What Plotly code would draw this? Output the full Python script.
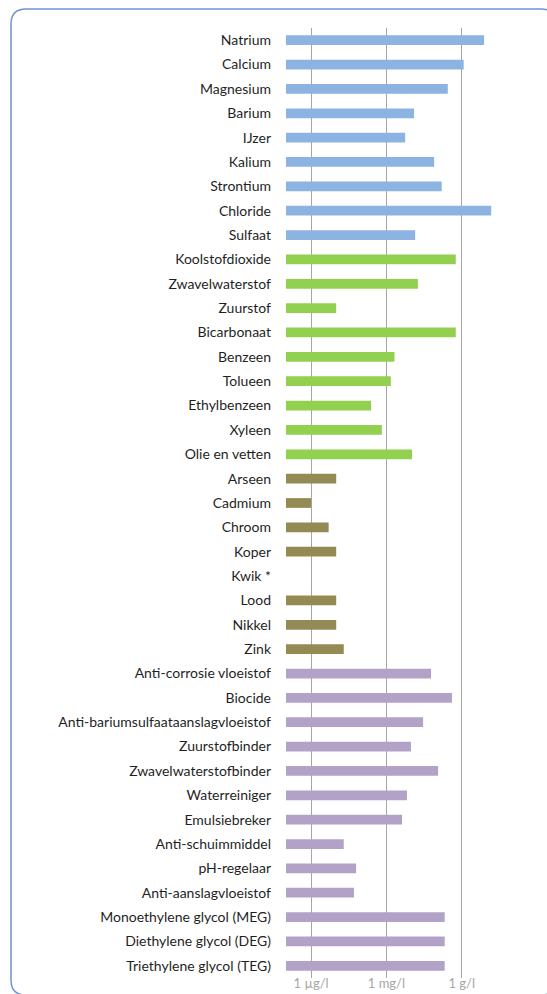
import plotly.graph_objects as go

# Concentrations in µg/l (log scale), grouped by substance type
metals_salts = ["Natrium", "Calcium", "Magnesium", "Barium", "IJzer", "Kalium",
                "Strontium", "Chloride", "Sulfaat"]
metals_salts_val = [7.8e6, 1.2e6, 2.8e5, 1.26e4, 5.6e3, 8.0e4, 1.6e5, 1.5e7, 1.4e4]

gases_organics = ["Koolstofdioxide", "Zwavelwaterstof", "Zuurstof", "Bicarbonaat",
                  "Benzeen", "Tolueen", "Ethylbenzeen", "Xyleen", "Olie en vetten"]
gases_organics_val = [5.8e5, 1.8e4, 10, 5.8e5, 2.1e3, 1.5e3, 245, 660, 1.05e4]

heavy_metals = ["Arseen", "Cadmium", "Chroom", "Koper", "Kwik *", "Lood", "Nikkel", "Zink"]
heavy_metals_val = [10, 1, 5, 10, None, 10, 10, 20]

additives = ["Anti-corrosie vloeistof", "Biocide", "Anti-bariumsulfaataanslagvloeistof",
             "Zuurstofbinder", "Zwavelwaterstofbinder", "Waterreiniger", "Emulsiebreker",
             "Anti-schuimmiddel", "pH-regelaar", "Anti-aanslagvloeistof",
             "Monoethylene glycol (MEG)", "Diethylene glycol (DEG)", "Triethylene glycol (TEG)"]
additives_val = [6.0e4, 4.1e5, 2.9e4, 9.5e3, 1.15e5, 6.6e3, 4.2e3, 20, 62, 51,
                 2.1e5, 2.1e5, 2.1e5]

tick_vals = [1, 1e3, 1e6]
tick_text = ["1 µg/l", "1 mg/l", "1 g/l"]

groups = [
    (metals_salts, metals_salts_val, "#8db3e2"),
    (gases_organics, gases_organics_val, "#92d050"),
    (heavy_metals, heavy_metals_val, "#948a54"),
    (additives, additives_val, "#b3a2c7"),
]

BASE = 0.1  # bars start at 0.1 µg/l

W, H = 547, 994
ML, MR, MT, MB = 286, 10, 28, 16
PW, PH = W - ML - MR, H - MT - MB

fig = go.Figure()
all_cats = []
for cats, vals, color in groups:
    all_cats += cats
    fig.add_trace(go.Bar(
        y=cats,
        x=[None if v is None else v - BASE for v in vals],
        base=BASE, orientation="h",
        marker=dict(color=color, line=dict(width=0)),
        width=0.4, showlegend=False,
        customdata=vals, hovertemplate="%{y}: %{customdata} µg/l<extra></extra>",
    ))


def px(x, y):
    return (x - ML) / PW, 1 - (y - MT) / PH


# rounded outer frame
L, T, R, B, r = 11, 9, 556, 995, 15
pts = [
    ("M", [(L + r, T)]), ("L", [(R - r, T)]), ("Q", [(R, T), (R, T + r)]),
    ("L", [(R, B - r)]), ("Q", [(R, B), (R - r, B)]), ("L", [(L + r, B)]),
    ("Q", [(L, B), (L, B - r)]), ("L", [(L, T + r)]), ("Q", [(L, T), (L + r, T)]),
]
path = ""
for cmd, coords in pts:
    path += cmd + " ".join("%.5f,%.5f" % px(x, y) for x, y in coords) + " "
path += "Z"

fig.add_shape(type="path", path=path, xref="paper", yref="paper",
              line=dict(color="#6d93cf", width=1.5), layer="below")

fig.update_layout(
    width=W, height=H,
    margin=dict(l=ML, r=MR, t=MT, b=MB, autoexpand=False),
    paper_bgcolor="white", plot_bgcolor="white",
    font=dict(family="Lato, Carlito, sans-serif", size=14, color="#1f1f1f"),
    xaxis=dict(
        type="log", range=[-1, 9], tickvals=tick_vals, ticktext=tick_text,
        showgrid=True, gridcolor="#a6a6a6", gridwidth=1, zeroline=False,
        showline=False, ticks="", tickfont=dict(color="#a6a6a6", size=13),
        ticklabelstandoff=-4, automargin=False, fixedrange=True,
    ),
    yaxis=dict(
        type="category", categoryorder="array", categoryarray=all_cats,
        autorange="reversed", showgrid=False, showline=False, ticks="",
        ticklabelstandoff=14, tickfont=dict(size=14, color="#1f1f1f"),
        automargin=False, fixedrange=True,
    ),
)

fig.write_html("out.html")
